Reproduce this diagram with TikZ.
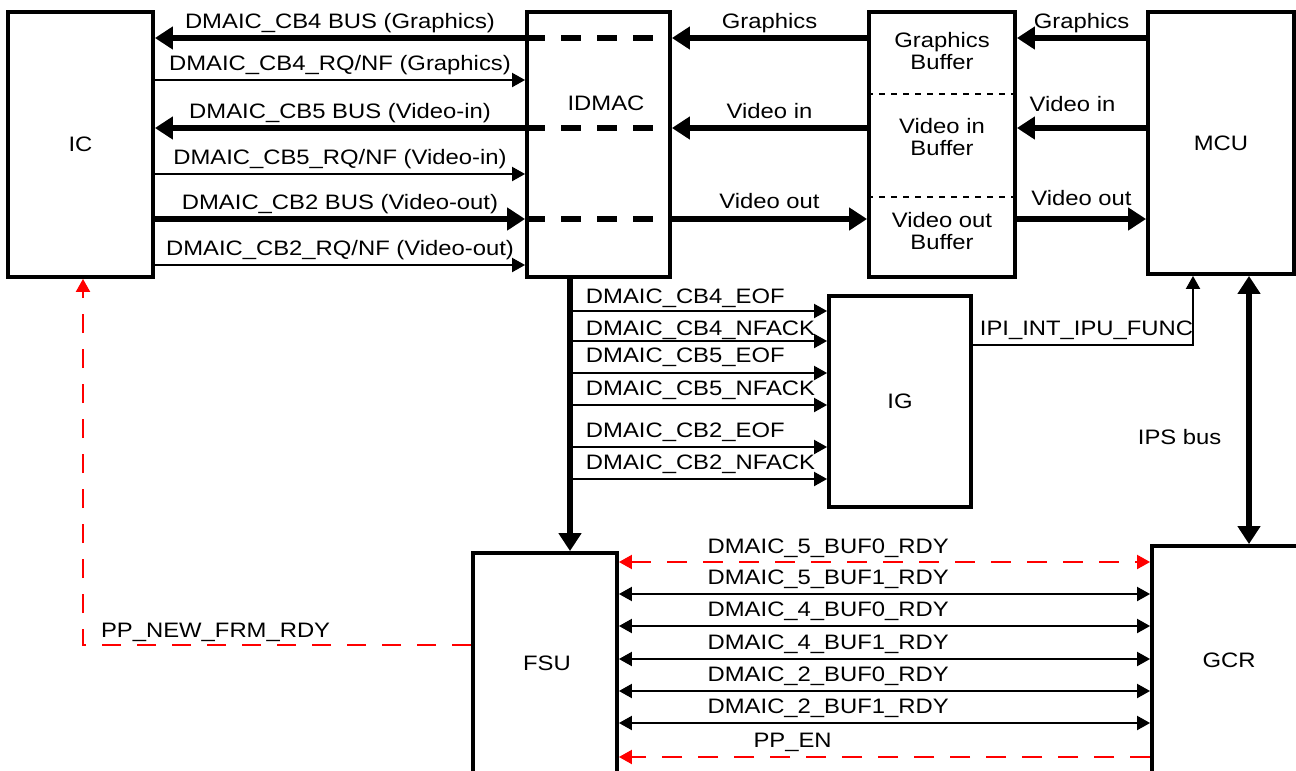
\documentclass[tikz,border=0pt]{standalone}
\usepackage{fontspec}
\setmainfont{Liberation Sans}[FakeStretch=1.14]
\usetikzlibrary{arrows.meta}

\tikzset{
  bigtip/.tip={Triangle[length=0.36cm,width=0.44cm]},
  smalltip/.tip={Triangle[length=0.26cm,width=0.28cm]},
  txt/.style={font=\fontsize{11.9}{13}\selectfont, align=center, inner sep=0pt, text=black},
  unit/.style={draw, line width=2.2pt, txt},
  lbl/.style={txt, anchor=base, yshift=0.2cm},
  bus/.style={line width=3pt, -bigtip},
  busdash/.style={line width=3pt, dash pattern=on 0.4cm off 0.32cm},
  sig/.style={line width=1.1pt, -smalltip},
  rsig/.style={sig, red, dash pattern=on 0.4cm off 0.32cm},
  divider/.style={line width=1pt, dash pattern=on 0.12cm off 0.12cm}
}

\begin{document}
\begin{tikzpicture}[x=0.02cm, y=-0.02cm]
  \useasboundingbox (0,0) rectangle (1296,771);
  \clip (0,0) rectangle (1296,771);

  % Blocks
  \node[unit, minimum width=2.9cm, minimum height=5.3cm] (ic) at (80.5,144.5) {IC};
  \node[unit, minimum width=2.86cm, minimum height=5.3cm] (idmac) at (598.5,144.5) {};
  \node[txt] (idmactext) at (606,103) {IDMAC};
  \node[unit, minimum width=2.92cm, minimum height=5.3cm] (buf) at (942,144.5) {};
  \node[txt] (gbuf) at (942,51) {Graphics\\Buffer};
  \node[txt] (vibuf) at (942,137) {Video in\\Buffer};
  \node[txt] (vobuf) at (942,231) {Video out\\Buffer};
  \node[unit, minimum width=2.92cm, minimum height=5.24cm] (mcu) at (1221,143) {MCU};
  \node[unit, minimum width=2.84cm, minimum height=4.22cm] (ig) at (900,401.5) {IG};
  \node[unit, minimum width=2.88cm, minimum height=4.94cm] (fsu) at (545,676.5) {};
  \node[txt] (fsutext) at (547,663) {FSU};
  \node[unit, minimum width=3.56cm, minimum height=5.08cm] (gcr) at (1241,673) {};
  \node[txt] (gcrtext) at (1229,660) {GCR};

  % Buffer partitions
  \draw[divider] (buf.west |- 0,94) -- (buf.east |- 0,94);
  \draw[divider] (buf.west |- 0,197) -- (buf.east |- 0,197);

  % IC <-> IDMAC
  \draw[bus] (idmac.west |- 0,38) -- node[midway, lbl] {DMAIC\_CB4 BUS (Graphics)} (ic.east |- 0,38);
  \draw[sig] (ic.east |- 0,80) -- node[midway, lbl] {DMAIC\_CB4\_RQ/NF (Graphics)} (idmac.west |- 0,80);
  \draw[bus] (idmac.west |- 0,128) -- node[midway, lbl] {DMAIC\_CB5 BUS (Video-in)} (ic.east |- 0,128);
  \draw[sig] (ic.east |- 0,174) -- node[midway, lbl] {DMAIC\_CB5\_RQ/NF (Video-in)} (idmac.west |- 0,174);
  \draw[bus] (ic.east |- 0,219) -- node[midway, lbl] {DMAIC\_CB2 BUS (Video-out)} (idmac.west |- 0,219);
  \draw[sig] (ic.east |- 0,265) -- node[midway, lbl] {DMAIC\_CB2\_RQ/NF (Video-out)} (idmac.west |- 0,265);

  % Buses through IDMAC
  \foreach \y in {38,128,219}
    \draw[busdash] (idmac.west |- 0,\y) -- (idmac.east |- 0,\y);

  % IDMAC <-> buffers
  \draw[bus] (buf.west |- 0,38) -- node[midway, lbl] {Graphics} (idmac.east |- 0,38);
  \draw[bus] (buf.west |- 0,128) -- node[midway, lbl] {Video in} (idmac.east |- 0,128);
  \draw[bus] (idmac.east |- 0,219) -- node[midway, lbl, yshift=0.02cm] {Video out} (buf.west |- 0,219);

  % Buffers <-> MCU
  \draw[bus] (mcu.west |- 0,38) -- node[midway, lbl] {Graphics} (buf.east |- 0,38);
  \draw[bus] (mcu.west |- 0,128) -- node[midway, lbl, xshift=-0.18cm, yshift=0.14cm] {Video in} (buf.east |- 0,128);
  \draw[bus] (buf.east |- 0,219) -- node[midway, lbl, yshift=0.08cm] {Video out} (mcu.west |- 0,219);

  % IDMAC -> FSU and IG
  \coordinate (trunk) at (idmac.south -| 570,0);
  \draw[bus] (trunk) -- (trunk |- fsu.north);
  \foreach \y/\dy/\sigtext in {311/8/DMAIC\_CB4\_EOF, 341/6/DMAIC\_CB4\_NFACK,
                              373/11/DMAIC\_CB5\_EOF, 405/10/DMAIC\_CB5\_NFACK,
                              447/10/DMAIC\_CB2\_EOF, 479/10/DMAIC\_CB2\_NFACK}
    \draw[sig] (trunk |- 0,\y) -- (ig.west |- 0,\y)
      node[pos=0, txt, anchor=base west, xshift=0.3cm, yshift=\dy*0.02cm] {\sigtext};

  % IG -> MCU
  \draw[sig] (ig.east |- 0,345) -| (mcu.south -| 1193,0)
    node[pos=0, txt, anchor=base west, xshift=0.12cm, yshift=0.2cm] {IPI\_INT\_IPU\_FUNC};

  % IPS bus
  \draw[bus, bigtip-bigtip] (mcu.south -| 1249,0) -- node[pos=0.6, txt, anchor=east, xshift=-0.5cm] {IPS bus} (gcr.north -| 1249,0);

  % FSU <-> GCR
  \draw[rsig, smalltip-smalltip] (fsu.east |- 0,562) -- node[pos=0.394, lbl, yshift=-0.02cm] {DMAIC\_5\_BUF0\_RDY} (gcr.west |- 0,562);
  \foreach \y/\sigtext in {594/DMAIC\_5\_BUF1\_RDY, 626/DMAIC\_4\_BUF0\_RDY, 659/DMAIC\_4\_BUF1\_RDY,
                           691/DMAIC\_2\_BUF0\_RDY, 723/DMAIC\_2\_BUF1\_RDY}
    \draw[sig, smalltip-smalltip] (fsu.east |- 0,\y) -- node[pos=0.394, lbl] {\sigtext} (gcr.west |- 0,\y);
  \draw[rsig] (gcr.west |- 0,757) -- node[pos=0.673, lbl] {PP\_EN} (fsu.east |- 0,757);

  % FSU -> IC
  \draw[rsig, dash pattern=on 0.38cm off 0.32cm] (fsu.west |- 0,645) -| (ic.south -| 83,0)
    node[pos=0.478, txt, anchor=base west, yshift=0.16cm] {PP\_NEW\_FRM\_RDY};
\end{tikzpicture}
\end{document}
